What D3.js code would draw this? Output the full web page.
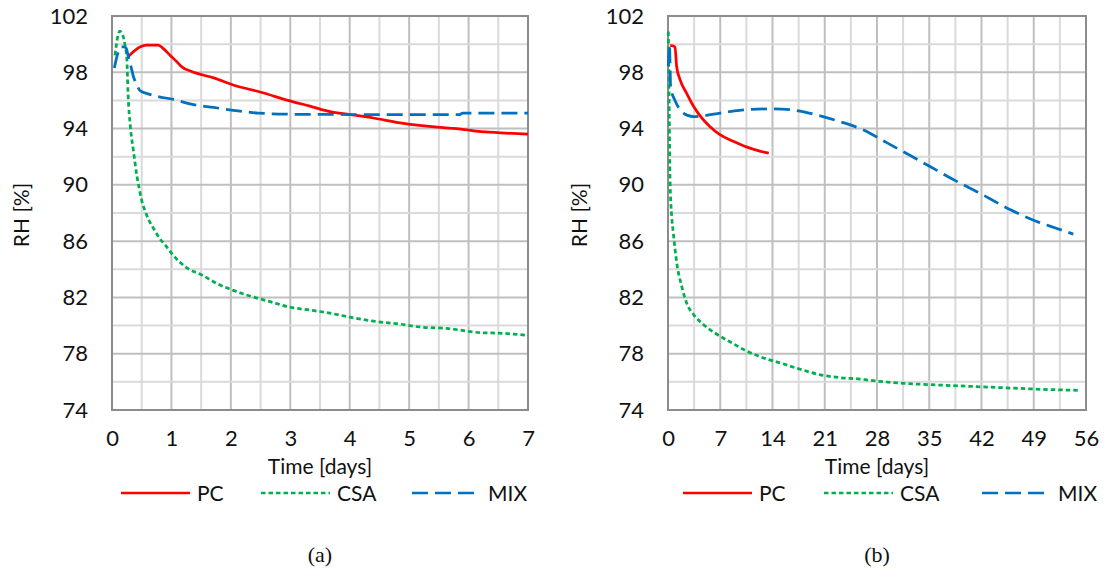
<!DOCTYPE html>
<html>
<head>
<meta charset="utf-8">
<script src="https://cdn.jsdelivr.net/npm/d3@7"></script>
<style>
  body { margin: 0; background: #fff; }
  text { font-family: Lato, "Open Sans", sans-serif; fill: #111; }
</style>
</head>
<body>
<div id="chart"></div>
<script>
/* CONSTANTS AND GLOBALS */
const width = 1106, height = 581;

// tick labels
const yTicks = [74, 78, 82, 86, 90, 94, 98, 102];
const xTicksA = [0, 1, 2, 3, 4, 5, 6, 7];
const xTicksB = [0, 7, 14, 21, 28, 35, 42, 49, 56];
const seriesNames = ["PC", "CSA", "MIX"];

// (a) first week
const pcA_t = [0.27, 0.33, 0.47, 0.58, 0.78, 0.86, 0.98, 1.09, 1.17, 1.34, 1.71, 2.04, 2.49, 3.05, 3.33, 3.67, 4.0, 4.4, 4.85, 5.47, 5.8, 6.16, 6.53, 7.0];
const pcA_v = [99.1, 99.35, 99.8, 99.93, 99.93, 99.7, 99.2, 98.75, 98.4, 98.05, 97.6, 97.1, 96.6, 95.9, 95.6, 95.2, 95.0, 94.75, 94.4, 94.1, 94.0, 93.8, 93.7, 93.6];
const csaA_t = [0.05, 0.1, 0.13, 0.18, 0.22, 0.25, 0.27, 0.31, 0.36, 0.42, 0.46, 0.5, 0.56, 0.62, 0.7, 0.8, 0.9, 1.03, 1.26, 1.51, 1.76, 2.04, 2.32, 2.66, 3.0, 3.33, 3.64, 4.0, 4.34, 4.85, 5.18, 5.63, 6.19, 6.58, 7.0];
const csaA_v = [99.2, 100.6, 100.93, 100.65, 99.9, 98.9, 96.5, 94.1, 92.45, 90.6, 89.7, 88.9, 88.1, 87.5, 86.9, 86.2, 85.7, 85.0, 84.1, 83.6, 83.0, 82.5, 82.1, 81.7, 81.3, 81.1, 80.9, 80.6, 80.35, 80.1, 79.9, 79.8, 79.5, 79.45, 79.3];
const mixA_t = [0.04, 0.07, 0.11, 0.15, 0.2, 0.24, 0.27, 0.32, 0.36, 0.42, 0.47, 0.58, 0.75, 1.03, 1.37, 1.71, 2.04, 2.46, 3.0, 4.0, 5.0, 5.85, 5.9, 7.0];
const mixA_v = [98.3, 98.9, 99.5, 99.8, 99.8, 99.7, 99.2, 98.4, 97.7, 97.1, 96.7, 96.5, 96.3, 96.07, 95.7, 95.5, 95.3, 95.1, 95.02, 95.0, 95.0, 95.0, 95.1, 95.1];

// (b) eight weeks
const pcB_t = [0.3, 0.5, 0.94, 1.16, 1.6, 2.5, 3.4, 4.3, 5.6, 7.0, 8.75, 10.5, 12.3, 13.5];
const pcB_v = [99.9, 99.9, 99.8, 98.4, 97.5, 96.5, 95.6, 94.9, 94.15, 93.55, 93.1, 92.7, 92.4, 92.25];
const csaB_t = [0.05, 0.15, 0.27, 0.49, 0.71, 1.16, 1.83, 2.5, 3.4, 4.7, 6.5, 8.3, 10.5, 12.8, 15.0, 17.7, 20.4, 23.0, 25.7, 28.0, 31.5, 37.3, 44.2, 51.2, 55];
const csaB_v = [100.9, 96, 90.4, 87.8, 86.6, 84.5, 82.8, 81.6, 80.8, 80.1, 79.4, 78.85, 78.2, 77.7, 77.35, 76.9, 76.5, 76.3, 76.2, 76.05, 75.9, 75.75, 75.6, 75.45, 75.4];
const mixB_t = [0.04, 0.2, 0.36, 0.94, 2.05, 3.4, 4.7, 7.0, 9.6, 14.1, 17, 20.4, 23, 26.2, 29.3, 32.4, 35.1, 38.5, 41.8, 45.8, 49.4, 52.1, 54.3];
const mixB_v = [98.4, 99.9, 96.9, 96.0, 95.1, 94.85, 94.9, 95.1, 95.3, 95.4, 95.3, 94.9, 94.5, 93.9, 93.0, 92.1, 91.3, 90.3, 89.4, 88.25, 87.4, 86.9, 86.5];

const styles = {
  PC:  { color: "#ff0000", dash: null },
  CSA: { color: "#00b050", dash: "4.5,3" },
  MIX: { color: "#0070c0", dash: "16,7" }
};

const zip = (t, v) => t.map((d, i) => ({ t: d, v: v[i] }));

const svg = d3.select("#chart")
  .append("svg")
  .attr("width", width)
  .attr("height", height);

drawPanel({
  left: 112, right: 528, top: 16, bottom: 410,
  xTicks: xTicksA, xStep: 0.5, tag: "(a)", yLabelX: 22,
  legendX: [121, 261, 412],
  data: { PC: zip(pcA_t, pcA_v), CSA: zip(csaA_t, csaA_v), MIX: zip(mixA_t, mixA_v) }
});

drawPanel({
  left: 668, right: 1086, top: 16, bottom: 410,
  xTicks: xTicksB, xStep: 3.5, tag: "(b)", yLabelX: 580,
  legendX: [683, 824, 982],
  data: { PC: zip(pcB_t, pcB_v), CSA: zip(csaB_t, csaB_v), MIX: zip(mixB_t, mixB_v) }
});

function drawPanel(p) {
  const xScale = d3.scaleLinear()
    .domain(d3.extent(p.xTicks))
    .range([p.left, p.right]);
  const yScale = d3.scaleLinear()
    .domain(d3.extent(yTicks))
    .range([p.bottom, p.top]);

  const g = svg.append("g");

  // minor + major gridlines
  const xMinor = d3.range(xScale.domain()[0], xScale.domain()[1] + 0.001, p.xStep);
  const yMinor = d3.range(74, 102.001, 2);

  g.selectAll(".vgrid")
    .data(xMinor)
    .join("line")
    .attr("x1", d => xScale(d)).attr("x2", d => xScale(d))
    .attr("y1", p.top).attr("y2", p.bottom)
    .attr("stroke", (d, i) => i % 2 ? "#dadada" : "#bfbfbf")
    .attr("stroke-width", 2);

  g.selectAll(".hgrid")
    .data(yMinor)
    .join("line")
    .attr("y1", d => yScale(d)).attr("y2", d => yScale(d))
    .attr("x1", p.left).attr("x2", p.right)
    .attr("stroke", (d, i) => i % 2 ? "#dadada" : "#bfbfbf")
    .attr("stroke-width", 2);

  g.append("rect")
    .attr("x", p.left).attr("y", p.top)
    .attr("width", p.right - p.left).attr("height", p.bottom - p.top)
    .attr("fill", "none")
    .attr("stroke", "#8c8c8c")
    .attr("stroke-width", 2);

  // axes (labels only)
  const yAxis = d3.axisLeft(yScale).tickValues(yTicks).tickSize(0).tickPadding(24);
  const xAxis = d3.axisBottom(xScale).tickValues(p.xTicks).tickSize(0).tickPadding(20)
    .tickFormat(d3.format("d"));

  g.append("g")
    .attr("transform", `translate(${p.left}, 0)`)
    .call(yAxis)
    .call(a => a.select(".domain").remove())
    .selectAll("text")
    .style("font-size", "22px")
    .style("font-family", "Lato, sans-serif")
    .attr("fill", "#111");

  g.append("g")
    .attr("transform", `translate(0, ${p.bottom})`)
    .call(xAxis)
    .call(a => a.select(".domain").remove())
    .selectAll("text")
    .style("font-size", "22px")
    .style("font-family", "Lato, sans-serif")
    .attr("fill", "#111");

  // axis titles
  g.append("text")
    .attr("x", (p.left + p.right) / 2)
    .attr("y", 474)
    .attr("text-anchor", "middle")
    .style("font-size", "21px")
    .text("Time [days]");

  g.append("text")
    .attr("transform", `translate(${p.yLabelX + 7}, ${(p.top + p.bottom) / 2 + 2}) rotate(-90)`)
    .attr("text-anchor", "middle")
    .style("font-size", "21px")
    .text("RH [%]");

  // series
  const lineGen = d3.line()
    .curve(d3.curveMonotoneX)
    .x(d => xScale(d.t))
    .y(d => yScale(d.v));

  seriesNames.forEach(name => {
    g.append("path")
      .datum(p.data[name])
      .attr("fill", "none")
      .attr("stroke", styles[name].color)
      .attr("stroke-width", 2.75)
      .attr("stroke-dasharray", styles[name].dash)
      .attr("d", lineGen);
  });

  // legend
  const legend = g.selectAll(".legend")
    .data(seriesNames)
    .join("g")
    .attr("transform", (d, i) => `translate(${p.legendX[i]}, 493)`);

  legend.append("line")
    .attr("x1", 0).attr("x2", 69)
    .attr("stroke", d => styles[d].color)
    .attr("stroke-width", 2.5)
    .attr("stroke-dasharray", d => styles[d].dash);

  legend.append("text")
    .attr("x", 76)
    .attr("dy", "0.36em")
    .style("font-size", "21px")
    .text(d => d);

  // panel tag
  g.append("text")
    .attr("x", (p.left + p.right) / 2)
    .attr("y", 562)
    .attr("text-anchor", "middle")
    .style("font-family", "'Liberation Serif', serif")
    .style("font-size", "22px")
    .text(p.tag);
}
</script>
</body>
</html>
